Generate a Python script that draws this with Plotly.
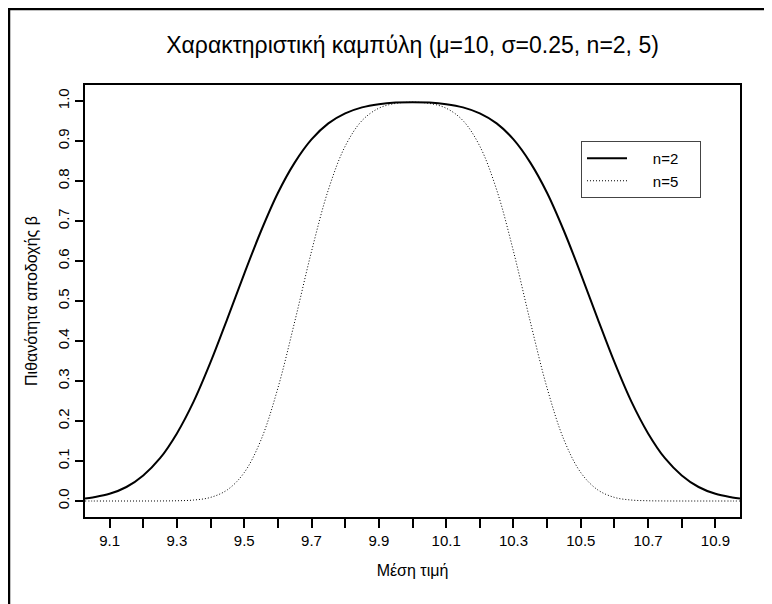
import plotly.graph_objects as go

# ---- data ----
mean_values = [9.027, 9.05, 9.10, 9.15, 9.20, 9.25, 9.30, 9.35, 9.40, 9.45, 9.50,
               9.55, 9.60, 9.65, 9.70, 9.75, 9.80, 9.85, 9.90, 9.95, 10.00,
               10.05, 10.10, 10.15, 10.20, 10.25, 10.30, 10.35, 10.40, 10.45, 10.50,
               10.55, 10.60, 10.65, 10.70, 10.75, 10.80, 10.85, 10.90, 10.95, 10.973]

beta_n2 = [0.006, 0.009, 0.018, 0.035, 0.064, 0.107, 0.169, 0.249, 0.347, 0.456, 0.568,
           0.675, 0.770, 0.846, 0.904, 0.944, 0.969, 0.984, 0.992, 0.996, 0.997,
           0.996, 0.992, 0.984, 0.969, 0.944, 0.904, 0.846, 0.770, 0.675, 0.568,
           0.456, 0.347, 0.249, 0.169, 0.107, 0.064, 0.035, 0.018, 0.009, 0.006]

beta_n5 = [0.000, 0.000, 0.000, 0.000, 0.000, 0.0001, 0.0006, 0.0024, 0.009, 0.028, 0.071,
           0.153, 0.282, 0.448, 0.624, 0.778, 0.887, 0.951, 0.982, 0.994, 0.997,
           0.994, 0.982, 0.951, 0.887, 0.778, 0.624, 0.448, 0.282, 0.153, 0.071,
           0.028, 0.009, 0.0024, 0.0006, 0.0001, 0.000, 0.000, 0.000, 0.000, 0.000]

x_ticks = [9.1, 9.2, 9.3, 9.4, 9.5, 9.6, 9.7, 9.8, 9.9, 10.0,
           10.1, 10.2, 10.3, 10.4, 10.5, 10.6, 10.7, 10.8, 10.9]
x_tick_labels = ["9.1", "", "9.3", "", "9.5", "", "9.7", "", "9.9", "",
                 "10.1", "", "10.3", "", "10.5", "", "10.7", "", "10.9"]
y_ticks = [0.0, 0.1, 0.2, 0.3, 0.4, 0.5, 0.6, 0.7, 0.8, 0.9, 1.0]
y_tick_labels = ["0.0", "0.1", "0.2", "0.3", "0.4", "0.5", "0.6", "0.7", "0.8", "0.9", "1.0"]

FONT = "Liberation Sans, Arial, sans-serif"
NBSP = "\u00a0"

fig = go.Figure()
fig.add_trace(go.Scatter(x=mean_values, y=beta_n2, mode="lines",
                         name=NBSP * 5 + "n=2" + NBSP * 4,
                         line=dict(color="black", width=2, shape="spline")))
fig.add_trace(go.Scatter(x=mean_values, y=beta_n5, mode="lines",
                         name=NBSP * 5 + "n=5" + NBSP * 4,
                         line=dict(color="black", width=1, dash="1px,2px", shape="spline")))

# page is offset by the browser's 8px body margin
OFF = 8
W, H = 772 - OFF, 604 - OFF
ml, mt = 85 - OFF, 85 - OFF
pw, ph = 655, 432
mr, mb = W - ml - pw, H - mt - ph

def px_x(px):
    return (px - OFF - ml) / pw

def px_y(py):
    return (mt + ph - (py - OFF)) / ph

fig.update_layout(
    width=W, height=H,
    margin=dict(l=ml, r=mr, t=mt, b=mb),
    paper_bgcolor="white", plot_bgcolor="white",
    font=dict(family=FONT, color="black", size=15),
    title=dict(text="Χαρακτηριστική καμπύλη (μ=10, σ=0.25, n=2, 5)",
               x=0.5, xref="paper", xanchor="center",
               y=1 - (45 - OFF) / H, yref="container", yanchor="middle",
               font=dict(family=FONT, size=23, color="black")),
    xaxis=dict(range=[9.027, 10.973], tickvals=x_ticks, ticktext=x_tick_labels,
               showgrid=False, zeroline=False, showline=True, mirror=True,
               linecolor="black", linewidth=2, ticks="outside", ticklen=9,
               tickwidth=1.5, tickcolor="black",
               tickfont=dict(size=15),
               title=dict(text="Μέση τιμή", font=dict(size=16), standoff=17)),
    yaxis=dict(range=[-0.04, 1.04], tickvals=y_ticks, ticktext=y_tick_labels,
               showgrid=False, zeroline=False, showline=True, mirror=True,
               linecolor="black", linewidth=2, ticks="outside", ticklen=8,
               tickwidth=1.5, tickcolor="black", tickangle=-90,
               tickfont=dict(size=15),
               title=dict(text="Πιθανότητα αποδοχής β", font=dict(size=16), standoff=13)),
    showlegend=True,
    legend=dict(x=px_x(581), y=px_y(141), xanchor="left", yanchor="top",
                bgcolor="white", bordercolor="#444", borderwidth=1,
                font=dict(size=15), itemwidth=40, tracegroupgap=0),
    shapes=[
        dict(type="line", xref="paper", yref="paper",
             x0=px_x(8), x1=px_x(800), y0=px_y(9), y1=px_y(9),
             line=dict(color="black", width=2.5)),
        dict(type="line", xref="paper", yref="paper",
             x0=px_x(9), x1=px_x(9), y0=px_y(9), y1=px_y(640),
             line=dict(color="black", width=2.5)),
    ],
)

fig.write_html("out.html")
